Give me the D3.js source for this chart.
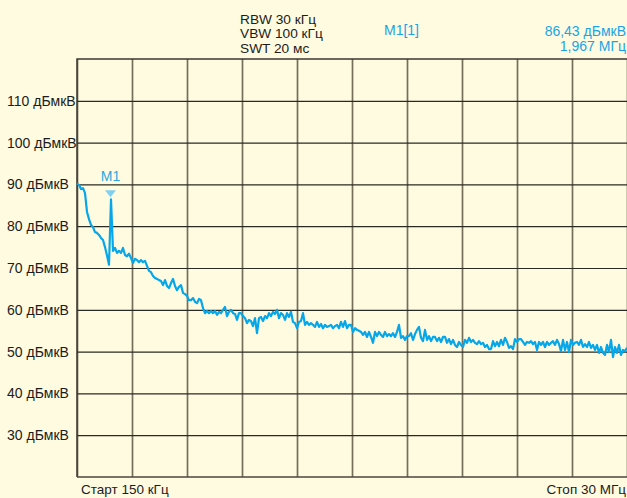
<!DOCTYPE html>
<html><head><meta charset="utf-8">
<script src="https://cdn.jsdelivr.net/npm/d3@7"></script>
<style>
html,body{margin:0;padding:0;background:#fffbe0;overflow:hidden}
svg{display:block;font-family:"Liberation Sans",Arial,sans-serif}
</style></head><body>
<svg id="c" width="627" height="498"></svg>
<script>
// ---- data ----
const startMHz = 0.15, stopMHz = 30;
const yTickValues = [30, 40, 50, 60, 70, 80, 90, 100, 110];
const yUnit = " дБмкВ";
const headerLines = ["RBW 30 кГц", "VBW 100 кГц", "SWT 20 мс"];
const markerName = "M1", markerTitle = "M1[1]";
const markerFreqMHz = 1.967, markerLevel = 86.43;
const markerTexts = ["86,43 дБмкВ", "1,967 МГц"];
const startLabel = "Старт 150 кГц", stopLabel = "Стоп 30 МГц";
// trace levels (dBµV), evenly spaced sweep points from start to stop
const levelsA = [90.2,89.9,88.9,89.1,87.9,83.4,81.7,80.3,79.8,78.6,78.4,77.9,77.2,76.7,75.0,73.0,70.8,86.4,74.1,74.8,
73.6,74.1,73.6,74.8,73.1,72.8,73.4,72.4,71.2,72.2,71.9,71.4,71.9,71.4,71.7,70.5,69.3,69.0,68.1,67.6,
67.4,67.1,66.9,65.9,67.1,65.7,65.2,66.4,67.4,65.7,64.7,65.5,65.9,64.0];
const levelsB = [63.8,63.3,62.3,62.3,62.8,61.9,61.6,62.6,62.3,60.4,59.2,59.7,59.2,59.7,59.2,59.7,58.8,59.5,59.2,60.0,
60.7,58.5,59.5,60.0,59.2,59.0,57.6,59.2,59.2,58.5,58.0,56.8,57.6,57.3,56.1,58.0,54.4,58.0,58.3,57.3,
58.5,58.0,59.2,58.5,59.5,59.0,60.0,58.0,59.2,58.8,57.6,59.2,58.3,59.5,57.1];
const levelsC = [56.8,55.6,57.1,57.3,59.2,56.4,57.1,56.4,56.8,56.4,55.9,57.1,55.9,56.6,55.6,56.4,55.9,56.1,56.4,55.6,
56.1,56.4,55.6,57.1,55.9,57.3,55.6,56.4,56.4,54.7,55.6,55.2,55.0,54.7,54.0,54.7,53.5,54.7,53.5,52.1,
54.7,53.7,54.7,54.0,53.5,54.7,53.7,54.2,53.7,54.4,53.5,54.7,56.4,53.3,53.7,52.8,53.7,53.7];
const levelsD = [54.4,52.8,54.2,55.2,55.9,53.3,52.5,55.2,52.8,53.7,52.5,53.5,53.5,52.5,53.3,52.3,53.5,53.5,52.1,53.0,
51.8,52.8,51.6,51.1,52.3,51.6,51.1,52.8,52.1,53.3,52.3,52.8,52.1,51.8,52.5,51.8,52.1,51.1,51.6,50.6,
50.6,52.5,51.3,52.3,51.3,52.8,51.6,53.3,52.3,50.9,51.3,50.6,53.0,52.3,53.0];
const levelsE = [53.0,52.3,51.6,52.3,52.1,52.5,51.8,52.3,50.4,52.3,51.6,52.3,51.1,52.3,51.6,52.1,52.5,51.6,52.8,51.8,
50.1,52.8,50.4,52.3,49.9,52.8,51.6,52.1,52.3,51.6,52.8,51.1,51.8,51.1,52.3,50.9,51.6,50.4,51.6,49.7,
51.1,49.7,49.2,51.6,49.9,52.8,48.7,51.1,49.7,51.6,49.2,50.4,50.1,50.9];
const levels = [...levelsA, ...levelsB, ...levelsC, ...levelsD, ...levelsE];

// ---- layout ----
const svg = d3.select("#c");
const L = 77, R = 627, T = 59, B = 477;
const x = d3.scaleLinear().domain([startMHz, stopMHz]).range([L, R]);
const y = d3.scaleLinear().domain([20, 120]).range([B, T]);
const step = (stopMHz - startMHz) / (levels.length - 1);
const pts = levels.map((v, i) => [startMHz + i * step, v]);

svg.append("rect").attr("width", 627).attr("height", 498).attr("fill", "#fffbe0");

// vertical grid
const xTicks = d3.range(11).map(i => startMHz + i * (stopMHz - startMHz) / 10);
const gx = svg.append("g").attr("transform", `translate(0,${B})`)
  .call(d3.axisBottom(x).tickValues(xTicks).tickSize(-(B - T)).tickFormat(""));
gx.select(".domain").remove();
gx.selectAll("line").attr("stroke", "#746e5b").attr("stroke-width", 1.7);

// horizontal grid + labels
const gy = svg.append("g").attr("transform", `translate(${L},0)`)
  .call(d3.axisLeft(y).tickValues(yTickValues).tickSize(-(R - L)).tickFormat(d => d + yUnit));
gy.select(".domain").remove();
gy.selectAll("line").attr("stroke", "#2a2a24").attr("stroke-width", 1.2);
gy.selectAll("text").attr("x", 7 - L).attr("text-anchor", "start")
  .attr("fill", "#1c1c1c").style("font-size", "14px")
  .style("font-family", '"Liberation Sans",Arial,sans-serif');

// frame
svg.append("path").attr("d", `M${L},${B}V${T}H${R + 2}`).attr("fill", "none")
  .attr("stroke", "#3a3830").attr("stroke-width", 1.4);
svg.append("line").attr("x1", L).attr("x2", R + 2).attr("y1", B).attr("y2", B)
  .attr("stroke", "#4a473c").attr("stroke-width", 1.4);

// trace
svg.append("path").datum(pts)
  .attr("d", d3.line().x(d => x(d[0])).y(d => y(d[1])))
  .attr("fill", "none").attr("stroke", "#05a7ea").attr("stroke-width", 2.2)
  .attr("stroke-linejoin", "round");

// marker
const mx = x(markerFreqMHz), my = y(markerLevel);
svg.append("path").attr("d", `M${mx - 5.5},${my - 9}L${mx + 5.5},${my - 9}L${mx},${my - 2}Z`)
  .attr("fill", "#7fcff2");
svg.append("text").attr("x", mx).attr("y", my - 22).attr("text-anchor", "middle")
  .attr("dominant-baseline", "middle").attr("fill", "#2aa8e2").style("font-size", "14px")
  .text(markerName);

// header
const txt = (t, xx, yy, anchor, col, fs) => svg.append("text").attr("x", xx).attr("y", yy)
  .attr("text-anchor", anchor).attr("dominant-baseline", "middle")
  .attr("fill", col).style("font-size", (fs || 14) + "px").text(t);
headerLines.forEach((t, i) => txt(t, 240, 20 + i * 14.8, "start", "#1c1c1c", 13.7));
txt(markerTitle, 384, 31, "start", "#1aa4e6");
txt(markerTexts[0], 626, 32, "end", "#1aa4e6");
txt(markerTexts[1], 626, 47.5, "end", "#1aa4e6");

// start / stop
txt(startLabel, 81, 490, "start", "#1c1c1c", 13.5);
txt(stopLabel, 626, 490, "end", "#1c1c1c", 13.5);
</script></body></html>
